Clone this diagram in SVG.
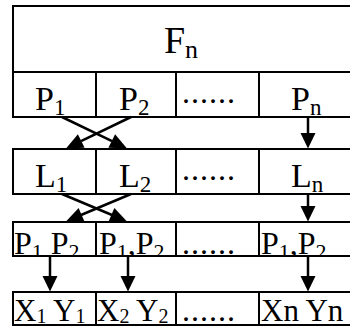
<svg xmlns="http://www.w3.org/2000/svg" width="350" height="329" viewBox="0 0 350 329">
<style>
.cell{fill:#fff;stroke:#000;stroke-width:2}
.t{font-family:"Liberation Serif","Times New Roman",serif;font-size:34px;fill:#000}
.s{font-size:23px}
.d{font-family:"Liberation Serif","Times New Roman",serif;font-size:32px;letter-spacing:1px;fill:#000}
.c{stroke:#000;stroke-width:2.5;fill:none}
.h{fill:#000;stroke:none}
</style>
<defs>
<clipPath id="r3"><rect x="0" y="223" width="350" height="32"/></clipPath>
</defs>

<g id="F">
<rect class="cell" x="13" y="6" width="338" height="66"/>
<text class="t" x="181" y="53" text-anchor="middle" style="font-size:38px">F<tspan class="s" dy="5" style="font-size:26px">n</tspan></text>
</g>

<g id="P1"><rect class="cell" x="13" y="72" width="83" height="45"/>
<text class="t" x="35" y="110">P<tspan class="s" dy="5">1</tspan></text></g>
<g id="P2"><rect class="cell" x="96" y="72" width="80" height="45"/>
<text class="t" x="119" y="110">P<tspan class="s" dy="5">2</tspan></text></g>
<g id="Pdots"><rect class="cell" x="176" y="72" width="83" height="45"/>
<text class="d" x="182" y="103">......</text></g>
<g id="Pn"><rect class="cell" x="259" y="72" width="92" height="45"/>
<text class="t" x="291" y="110">P<tspan class="s" dy="5">n</tspan></text></g>

<g id="L1"><rect class="cell" x="13" y="149" width="83" height="45"/>
<text class="t" x="35" y="187">L<tspan class="s" dy="5">1</tspan></text></g>
<g id="L2"><rect class="cell" x="96" y="149" width="80" height="45"/>
<text class="t" x="119" y="187">L<tspan class="s" dy="5">2</tspan></text></g>
<g id="Ldots"><rect class="cell" x="176" y="149" width="83" height="45"/>
<text class="d" x="182" y="180">......</text></g>
<g id="Ln"><rect class="cell" x="259" y="149" width="92" height="45"/>
<text class="t" x="291" y="187">L<tspan class="s" dy="5">n</tspan></text></g>

<g id="Q1"><rect class="cell" x="13" y="222" width="83" height="34"/>
<text class="t" x="14" y="254" clip-path="url(#r3)" style="font-size:32px">P<tspan class="s" dy="5" style="font-size:22px">1</tspan><tspan dy="-5"> P</tspan><tspan class="s" dy="5" style="font-size:22px">2,</tspan></text></g>
<g id="Q2"><rect class="cell" x="96" y="222" width="80" height="34"/>
<text class="t" x="99" y="254" clip-path="url(#r3)" style="font-size:32px">P<tspan class="s" dy="5" style="font-size:22px">1</tspan><tspan dy="-5">,P</tspan><tspan class="s" dy="5" style="font-size:22px">2,</tspan></text></g>
<g id="Qdots"><rect class="cell" x="176" y="222" width="83" height="34"/>
<text class="d" x="182" y="254">......</text></g>
<g id="Qn"><rect class="cell" x="259" y="222" width="92" height="34"/>
<text class="t" x="261" y="254" clip-path="url(#r3)" style="font-size:32px">P<tspan class="s" dy="5" style="font-size:22px">1</tspan><tspan dy="-5">,P</tspan><tspan class="s" dy="5" style="font-size:22px">2,</tspan></text></g>

<g id="X1"><rect class="cell" x="13" y="292" width="83" height="33"/>
<text class="t" x="14" y="321" style="font-size:31px">X<tspan class="s" dy="2" style="font-size:20px">1</tspan><tspan dy="-2"> Y</tspan><tspan class="s" dy="2" style="font-size:20px">1</tspan></text></g>
<g id="X2"><rect class="cell" x="96" y="292" width="80" height="33"/>
<text class="t" x="97" y="321" style="font-size:31px">X<tspan class="s" dy="2" style="font-size:20px">2</tspan><tspan dy="-2"> Y</tspan><tspan class="s" dy="2" style="font-size:20px">2</tspan></text></g>
<g id="Xdots"><rect class="cell" x="176" y="292" width="83" height="33"/>
<text class="d" x="182" y="321">......</text></g>
<g id="Xn"><rect class="cell" x="259" y="292" width="92" height="33"/>
<text class="t" x="261" y="321" style="font-size:31px">Xn Yn</text></g>

<g id="connectors">
<line class="c" x1="62" y1="117" x2="112" y2="141.2"/>
<polygon class="h" points="127,148.5 108.4,147.7 115.1,134.3"/>
<line class="c" x1="131" y1="117" x2="81" y2="141.2"/>
<polygon class="h" points="66,148.5 84.6,147.7 77.9,134.3"/>
<line class="c" x1="308" y1="117" x2="308" y2="134"/>
<polygon class="h" points="300.5,133 315.5,133 308,148.5"/>
<line class="c" x1="62" y1="194" x2="112" y2="215"/>
<polygon class="h" points="127,221.5 108.4,221.7 114.4,207.9"/>
<line class="c" x1="131" y1="194" x2="81" y2="215"/>
<polygon class="h" points="66,221.5 84.6,221.7 78.6,207.9"/>
<line class="c" x1="308" y1="194" x2="308" y2="207"/>
<polygon class="h" points="300.5,206 315.5,206 308,221.5"/>
<line class="c" x1="50" y1="256" x2="50" y2="277"/>
<polygon class="h" points="42.5,276 57.5,276 50,291.5"/>
<line class="c" x1="128" y1="256" x2="128" y2="277"/>
<polygon class="h" points="120.5,276 135.5,276 128,291.5"/>
<line class="c" x1="308" y1="256" x2="308" y2="277"/>
<polygon class="h" points="300.5,276 315.5,276 308,291.5"/>
</g>
</svg>
